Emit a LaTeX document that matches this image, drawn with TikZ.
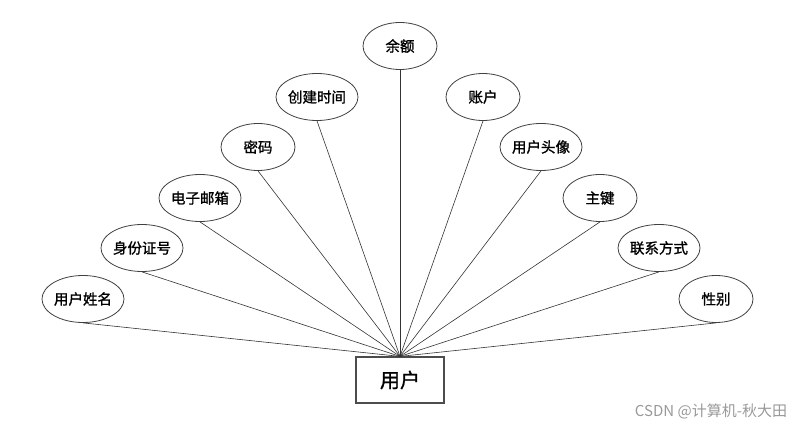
\documentclass[tikz,border=0pt]{standalone}
\usepackage{fontspec}
\setmainfont{Noto Sans CJK SC}
\newfontfamily\heavycjk[FakeBold=1.2]{Noto Sans CJK SC}
\usetikzlibrary{shapes.geometric}
\begin{document}
\begin{tikzpicture}[x=1pt, y=-1pt,
    attr/.style={ellipse, draw=black!75, line width=.8pt, minimum width=74pt, minimum height=47pt, inner sep=0pt, font=\heavycjk\fontsize{14.5}{16}\selectfont},
    entity/.style={rectangle, draw=black!70, line width=1.2pt, minimum width=88pt, minimum height=46pt, font=\heavycjk\fontsize{20}{22}\selectfont}]
\useasboundingbox (0,0) rectangle (800,430);

\node[entity] (user) at (400,380){用户};

\foreach \nm/\x/\y/\txt in {balance/400/46/余额, ctime/317/97/创建时间, account/483/97/账户, pwd/258/147/密码, avatar/541/147/用户头像, email/200/198/电子邮箱, key/600/198/主键, idcard/142/248/身份证号, phone/659/248/联系方式, uname/83/299/用户姓名, gender/716/299/性别}
{
    \node[attr] (\nm) at (\x,\y){\txt};
    \draw[black!80, line width=.6pt] (\nm.south)--(user.north);
}
\node[text=black!40, font=\fontsize{15}{17}\selectfont] (mark) at (711,411){CSDN @计算机-秋大田};
\end{tikzpicture}
\end{document}
